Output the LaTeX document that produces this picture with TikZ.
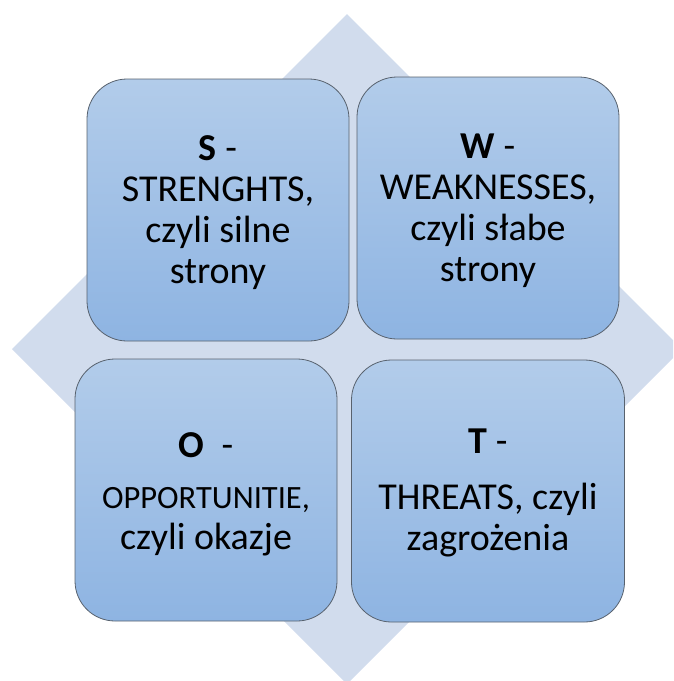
\documentclass[tikz,border=0pt]{standalone}
\usepackage{fontspec}
\setmainfont{Carlito}
\usepackage{xcolor}
\definecolor{diamondfill}{RGB}{209,220,237}
\definecolor{boxtop}{RGB}{178,204,234}
\definecolor{boxbottom}{RGB}{142,180,226}
\definecolor{boxline}{RGB}{88,98,110}

\begin{document}
\begin{tikzpicture}[x=1pt, y=-1pt,
    swot/.style={rectangle, rounded corners=40pt, draw=boxline, line width=0.8pt,
        top color=boxtop, bottom color=boxbottom, minimum height=262pt, inner sep=0pt},
    swottext/.style={inner sep=0pt, align=center, font=\fontsize{38}{41}\selectfont}]
    \useasboundingbox (0,0) rectangle (673,681);
    \clip (0,0) rectangle (673,681);

    % background diamond
    \fill[diamondfill] (347,14) -- (682,349) -- (347,684) -- (12,349) -- cycle;

    % the four fields
    \node[swot, minimum width=262pt] (s) at (218,210) {};
    \node[swot, minimum width=262pt] (w) at (488,208) {};
    \node[swot, minimum width=262pt] (o) at (206,490) {};
    \node[swot, minimum width=273pt] (t) at (488,491) {};

    \node[swottext] (s-text) at ([yshift=-3pt]s.center) {\textbf{S} -\\ STRENGHTS,\\ czyli silne\\ strony};
    \node[swottext] (w-text) at ([yshift=-3pt]w.center) {\textbf{W} -\\ WEAKNESSES,\\ czyli słabe\\ strony};
    \node[swottext] (o-text) at ([yshift=-4pt]o.center) {\textbf{O}\ \ -\\[10pt] {\fontsize{32.5}{41}\selectfont OPPORTUNITIE,}\\ czyli okazje};
    \node[swottext] (t-text) at ([yshift=-2pt]t.center) {\textbf{T} -\\[15pt] THREATS, czyli\\ zagrożenia};
\end{tikzpicture}
\end{document}
